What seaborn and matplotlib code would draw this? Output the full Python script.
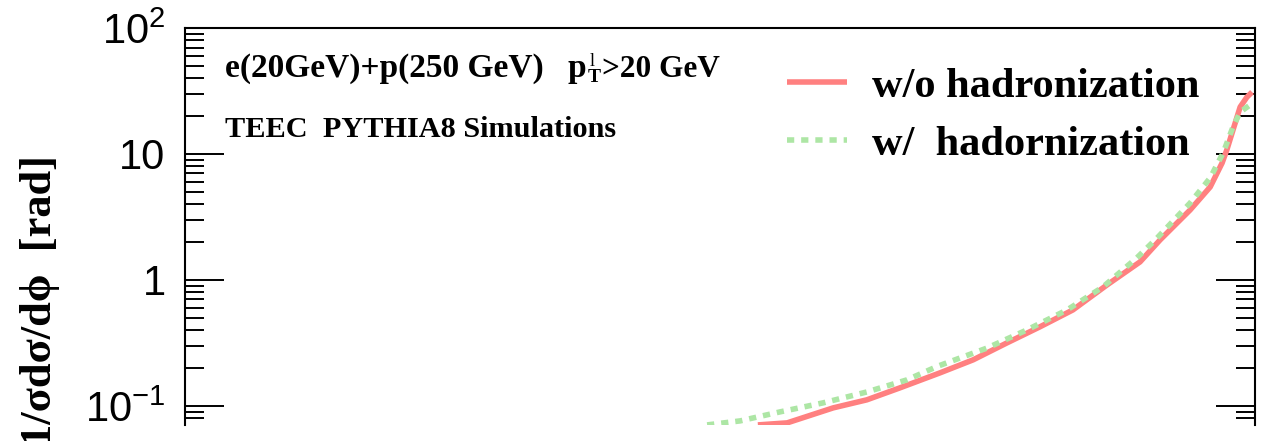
import matplotlib
matplotlib.use("Agg")
import matplotlib.pyplot as plt
from matplotlib.font_manager import FontProperties
from matplotlib.ticker import FixedLocator, LogLocator, NullFormatter
import numpy as np
import pandas as pd
import seaborn as sns

# TEEC distributions, 1/sigma dsigma/dphi versus phi [rad]
phi_no_had = [1.682, 1.768, 1.903, 2.002, 2.099, 2.217, 2.314, 2.413, 2.510, 2.607,
              2.707, 2.804, 2.863, 2.951, 3.010, 3.045, 3.059, 3.077, 3.098, 3.118, 3.133]
teec_no_had = [0.0706, 0.0733, 0.0964, 0.1117, 0.139, 0.183, 0.232, 0.316, 0.424, 0.578,
               0.912, 1.39, 2.08, 3.59, 5.47, 8.48, 10.8, 15.5, 23.6, 28.3, 31.0]

phi_had = [1.533, 1.630, 1.747, 1.873, 2.002, 2.120, 2.211, 2.355, 2.472, 2.590,
           2.695, 2.795, 2.854, 2.951, 3.010, 3.048, 3.077, 3.098, 3.127]
teec_had = [0.0706, 0.076, 0.0896, 0.1056, 0.129, 0.161, 0.207, 0.288, 0.401, 0.578,
            0.879, 1.50, 2.15, 4.08, 6.46, 10.2, 16.4, 21.5, 24.5]

series_labels = ["w/o hadronization", "w/  hadornization"]
series_colors = ["#FF8080", "#ADE6A5"]

y_tick_values = [0.1, 1, 10, 100]
y_tick_labels = [r"$10^{-1}$", "1", "10", r"$10^{2}$"]

df = pd.concat([
    pd.DataFrame({"phi": phi_no_had, "teec": teec_no_had, "sample": series_labels[0]}),
    pd.DataFrame({"phi": phi_had, "teec": teec_had, "sample": series_labels[1]}),
], ignore_index=True)

plt.rcParams["font.family"] = ["Liberation Sans", "DejaVu Sans"]
plt.rcParams["mathtext.fontset"] = "custom"
plt.rcParams["mathtext.rm"] = "Liberation Sans"

W, H = 1266, 441
fig = plt.figure(figsize=(W / 100, H / 100), dpi=100)
ax = fig.add_axes([185 / W, 1 - 425 / H, 1070 / W, 397 / H])

sns.lineplot(data=df, x="phi", y="teec", hue="sample", style="sample",
             hue_order=series_labels, style_order=series_labels,
             palette=dict(zip(series_labels, series_colors)),
             dashes={series_labels[0]: "", series_labels[1]: (1.3, 1.25)},
             estimator=None, sort=False, linewidth=4.0, legend=False, ax=ax)
for ln in ax.lines:
    ln.set_dash_capstyle("butt")
    ln.set_solid_capstyle("butt")
    ln.set_solid_joinstyle("round")

ax.set_yscale("log")
ax.set_ylim(0.0705, 100)
ax.set_xlim(0, np.pi)
ax.set_xticks([])
ax.set_xlabel("")

ax.yaxis.set_major_locator(FixedLocator(y_tick_values))
ax.set_yticklabels(y_tick_labels)
ax.yaxis.set_minor_locator(LogLocator(base=10, subs=np.arange(2, 10)))
ax.yaxis.set_minor_formatter(NullFormatter())
ax.tick_params(axis="y", which="both", direction="in", left=True, right=True,
               labelleft=True, labelright=False, width=1.4, color="black")
ax.tick_params(axis="y", which="major", length=28, pad=14, labelsize=30)
ax.tick_params(axis="y", which="minor", length=13.7)

for side in ("left", "right", "top"):
    ax.spines[side].set_linewidth(1.5)
    ax.spines[side].set_color("black")
ax.spines["bottom"].set_visible(False)
ax.set_facecolor("white")

serif_bold = dict(family=["Liberation Serif", "DejaVu Serif"], weight="bold")

ax.set_ylabel("1/\u03c3d\u03c3/d\u03d5  [rad]", fontsize=32, ha="center", va="top",
              rotation=90, rotation_mode="default", **serif_bold)
ax.yaxis.set_label_coords((40 - 185) / 1070, (425 - 155) / 397)

def fx(px):
    return px / W

def fy(py):
    return 1 - py / H

# beam energies and lepton transverse-momentum cut
fig.text(fx(225), fy(77), "e(20GeV)+p(250 GeV)", fontsize=24, va="baseline", ha="left", **serif_bold)
fig.text(fx(568), fy(77), "p", fontsize=24, va="baseline", ha="left", **serif_bold)
fig.text(fx(590), fy(66), "l", fontsize=13, va="baseline", ha="left",
         family=["Liberation Serif", "DejaVu Serif"])
fig.text(fx(588), fy(82), "T", fontsize=14, va="baseline", ha="left", **serif_bold)
fig.text(fx(602), fy(77), ">20 GeV", fontsize=22.5, va="baseline", ha="left", **serif_bold)
fig.text(fx(225), fy(137), "TEEC  PYTHIA8 Simulations", fontsize=21.8, va="baseline", ha="left", **serif_bold)

leg = ax.legend(handles=list(ax.lines), labels=series_labels,
                loc="upper left", bbox_to_anchor=(787 / W, 1 - 67 / H),
                bbox_transform=fig.transFigure, frameon=False, borderpad=0,
                borderaxespad=0, handlelength=1.42, handletextpad=0.59,
                labelspacing=0.46,
                prop=FontProperties(family="Liberation Serif", weight="bold", size=30.5))

fig.savefig("out.png", dpi=100, facecolor="white")
